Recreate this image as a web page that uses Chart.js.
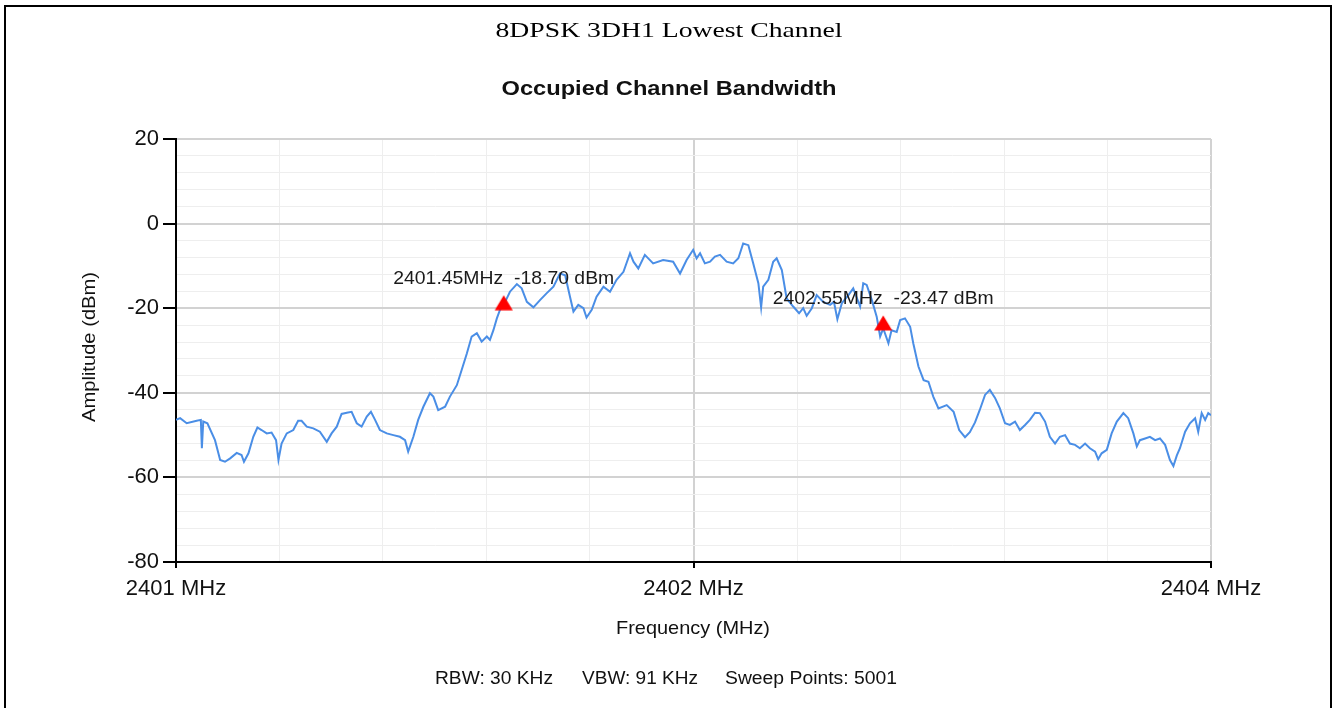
<!DOCTYPE html>
<html>
<head>
<meta charset="utf-8">
<title>8DPSK 3DH1 Lowest Channel</title>
<script src="https://cdn.jsdelivr.net/npm/chart.js@4.4.1/dist/chart.umd.min.js"></script>
<style>
  html, body { margin: 0; padding: 0; background: #fff; }
  #obwChart { display: block; }
</style>
</head>
<body>
<canvas id="obwChart" width="1334" height="708"></canvas>
<script>
// trace (MHz / dBm)
const freqs = [
  2400.500, 2400.512, 2400.531, 2400.560, 2400.572, 2400.575, 2400.579, 2400.591, 2400.613, 2400.628,
  2400.642, 2400.657, 2400.676, 2400.690, 2400.697, 2400.710, 2400.724, 2400.736, 2400.748, 2400.763,
  2400.777, 2400.790, 2400.797, 2400.806, 2400.821, 2400.840, 2400.854, 2400.864, 2400.879, 2400.898,
  2400.917, 2400.937, 2400.951, 2400.966, 2400.980, 2400.995, 2401.009, 2401.024, 2401.038, 2401.053,
  2401.065, 2401.077, 2401.091, 2401.111, 2401.130, 2401.149, 2401.164, 2401.173, 2401.188, 2401.202,
  2401.217, 2401.236, 2401.246, 2401.260, 2401.280, 2401.294, 2401.314, 2401.328, 2401.343, 2401.357,
  2401.372, 2401.386, 2401.401, 2401.410, 2401.420, 2401.430, 2401.439, 2401.454, 2401.468, 2401.488,
  2401.502, 2401.517, 2401.536, 2401.555, 2401.574, 2401.594, 2401.613, 2401.628, 2401.642, 2401.652,
  2401.666, 2401.681, 2401.690, 2401.705, 2401.719, 2401.739, 2401.758, 2401.777, 2401.797, 2401.816,
  2401.826, 2401.840, 2401.859, 2401.883, 2401.912, 2401.941, 2401.961, 2401.980, 2401.999, 2402.009,
  2402.019, 2402.033, 2402.048, 2402.062, 2402.077, 2402.096, 2402.115, 2402.130, 2402.144, 2402.159,
  2402.173, 2402.188, 2402.196, 2402.202, 2402.217, 2402.231, 2402.241, 2402.256, 2402.270, 2402.289,
  2402.306, 2402.318, 2402.328, 2402.343, 2402.357, 2402.376, 2402.396, 2402.407, 2402.417, 2402.430,
  2402.449, 2402.463, 2402.483, 2402.492, 2402.502, 2402.517, 2402.531, 2402.541, 2402.550, 2402.565,
  2402.574, 2402.589, 2402.599, 2402.613, 2402.628, 2402.637, 2402.652, 2402.667, 2402.681, 2402.695,
  2402.710, 2402.734, 2402.754, 2402.770, 2402.787, 2402.801, 2402.816, 2402.830, 2402.845, 2402.859,
  2402.874, 2402.888, 2402.903, 2402.917, 2402.932, 2402.946, 2402.961, 2402.975, 2402.990, 2403.004,
  2403.019, 2403.033, 2403.048, 2403.062, 2403.077, 2403.091, 2403.106, 2403.120, 2403.135, 2403.149,
  2403.164, 2403.173, 2403.183, 2403.198, 2403.212, 2403.227, 2403.246, 2403.260, 2403.275, 2403.285,
  2403.294, 2403.309, 2403.323, 2403.338, 2403.352, 2403.367, 2403.381, 2403.391, 2403.401, 2403.410,
  2403.425, 2403.439, 2403.454, 2403.463, 2403.473, 2403.483, 2403.492, 2403.500
];
const levels = [
  -46.4, -46.0, -47.2, -46.6, -46.4, -53.1, -46.8, -47.2, -51.2, -55.9,
  -56.3, -55.5, -54.2, -54.7, -56.3, -54.3, -50.4, -48.2, -48.8, -49.6,
  -49.4, -51.2, -55.9, -52.0, -49.6, -48.8, -46.6, -46.6, -48.0, -48.4,
  -49.2, -51.6, -49.6, -48.0, -45.0, -44.7, -44.5, -47.2, -48.0, -45.6,
  -44.5, -46.4, -48.8, -49.6, -50.0, -50.4, -51.2, -53.9, -50.4, -46.4,
  -43.3, -40.1, -40.9, -44.1, -43.3, -40.9, -38.2, -34.6, -30.7, -26.7,
  -25.9, -27.9, -26.7, -27.5, -25.2, -22.4, -20.4, -18.5, -16.1, -14.3,
  -15.3, -18.5, -19.8, -18.1, -16.5, -14.9, -11.8, -12.2, -17.3, -20.8,
  -19.2, -20.0, -22.2, -20.4, -17.3, -14.9, -16.1, -13.3, -11.4, -7.0,
  -9.0, -10.6, -7.4, -9.4, -8.6, -9.0, -11.8, -8.6, -6.2, -8.2,
  -7.0, -9.4, -9.0, -7.8, -7.4, -9.0, -9.4, -8.2, -4.7, -5.1,
  -9.4, -14.1, -19.8, -14.9, -13.3, -9.0, -8.2, -11.0, -17.7, -19.6,
  -21.2, -20.0, -21.8, -20.0, -16.9, -18.5, -19.2, -18.5, -22.6, -18.8,
  -16.9, -15.3, -19.6, -14.1, -14.5, -18.1, -22.0, -26.7, -24.8, -28.3,
  -25.2, -25.6, -22.8, -22.4, -24.4, -28.3, -33.8, -37.0, -37.4, -40.9,
  -43.7, -42.9, -44.5, -48.8, -50.5, -49.3, -47.0, -44.0, -40.5, -39.3,
  -41.2, -43.7, -47.2, -47.6, -46.8, -48.8, -47.6, -46.4, -44.7, -44.8,
  -46.8, -50.4, -52.0, -50.4, -50.0, -52.0, -52.3, -53.1, -52.0, -53.1,
  -53.9, -55.7, -54.3, -53.5, -49.6, -46.8, -44.8, -46.0, -49.6, -52.7,
  -51.2, -50.8, -50.4, -51.2, -50.8, -52.3, -55.9, -57.3, -54.8, -53.1,
  -49.2, -47.2, -46.0, -49.2, -44.8, -46.4, -44.8, -45.3
];

// OBW markers
const markerFreqs = [2401.45, 2402.55];
const markerLevels = [-18.70, -23.47];
const markerLabels = ['2401.45MHz  -18.70 dBm', '2402.55MHz  -23.47 dBm'];

// axes
const xGridValues = [2400.5, 2400.8, 2401.1, 2401.4, 2401.7, 2402.0, 2402.3, 2402.6, 2402.9, 2403.2, 2403.5];
const xMajorValues = [2400.5, 2402.0, 2403.5];
const xMajorLabels = ['2401 MHz', '2402 MHz', '2404 MHz'];
const yGridValues = [-80, -76, -72, -68, -64, -60, -56, -52, -48, -44, -40, -36, -32, -28, -24, -20, -16, -12, -8, -4, 0, 4, 8, 12, 16, 20];
const yMajorValues = [-80, -60, -40, -20, 0, 20];

const pageTitle = '8DPSK 3DH1 Lowest Channel';
const chartTitle = 'Occupied Channel Bandwidth';
const xTitle = 'Frequency (MHz)';
const yTitle = 'Amplitude (dBm)';
const footerParts = ['RBW: 30 KHz', 'VBW: 91 KHz', 'Sweep Points: 5001'];

function isIn(list, v) {
  return list.some(m => Math.abs(m - v) < 1e-6);
}

// red triangle whose box is centred on the point
function makeTriangle() {
  const c = document.createElement('canvas');
  c.width = 20;
  c.height = 16;
  const g = c.getContext('2d');
  g.fillStyle = '#ff0000';
  g.beginPath();
  g.moveTo(10, 0.5);
  g.lineTo(19, 15.5);
  g.lineTo(1, 15.5);
  g.closePath();
  g.fill();
  return c;
}

// draw text squeezed/stretched to a given width
function fitText(ctx, text, font, x, y, w, align) {
  ctx.font = font;
  const m = ctx.measureText(text).width;
  ctx.save();
  ctx.translate(x, y);
  ctx.scale(w / m, 1);
  ctx.textAlign = align || 'center';
  ctx.textBaseline = 'alphabetic';
  ctx.fillText(text, 0, 0);
  ctx.restore();
}

const pagePlugin = {
  id: 'pagePlugin',
  beforeDraw(chart) {
    const ctx = chart.ctx;
    ctx.save();
    ctx.fillStyle = '#ffffff';
    ctx.fillRect(0, 0, chart.width, chart.height);
    ctx.fillStyle = '#000000';
    ctx.fillRect(4, 5, 1328, 2);
    ctx.fillRect(4, 5, 2, 703);
    ctx.fillRect(1330, 5, 2, 703);
    ctx.restore();
  },
  afterDraw(chart) {
    const ctx = chart.ctx;
    const xs = chart.scales.x, ys = chart.scales.y;
    ctx.save();
    ctx.fillStyle = '#000000';
    fitText(ctx, pageTitle, '21px "Liberation Serif", "Times New Roman", serif', 669, 37, 347);
    ctx.fillStyle = '#111111';
    fitText(ctx, chartTitle, 'bold 20px "Liberation Sans", Arial, sans-serif', 669, 95, 335);
    fitText(ctx, xTitle, '19px "Liberation Sans", Arial, sans-serif', 693, 634, 154);

    ctx.save();
    ctx.translate(95, 347);
    ctx.rotate(-Math.PI / 2);
    fitText(ctx, yTitle, '18px "Liberation Sans", Arial, sans-serif', 0, 0, 150);
    ctx.restore();

    // footer with sweep settings
    const footX = [435, 582, 725];
    const footW = [118, 116, 172];
    footerParts.forEach((t, i) => {
      fitText(ctx, t, '18px "Liberation Sans", Arial, sans-serif', footX[i], 684, footW[i], 'left');
    });

    // marker readouts
    ctx.fillStyle = '#1a1a1a';
    markerFreqs.forEach((f, i) => {
      const px = xs.getPixelForValue(f);
      const py = ys.getPixelForValue(markerLevels[i]);
      fitText(ctx, markerLabels[i], '19px "Liberation Sans", Arial, sans-serif', px, py - 19, 221);
    });
    ctx.restore();
  }
};

new Chart(document.getElementById('obwChart'), {
  type: 'line',
  data: {
    datasets: [
      {
        label: 'Trace',
        data: freqs.map((f, i) => ({ x: f, y: levels[i] })),
        borderColor: '#4a8ee6',
        borderWidth: 2,
        pointRadius: 0,
        tension: 0,
        fill: false,
        order: 2
      },
      {
        label: 'Markers',
        data: markerFreqs.map((f, i) => ({ x: f, y: markerLevels[i] })),
        showLine: false,
        pointStyle: makeTriangle(),
        pointRadius: 10,
        order: 1
      }
    ]
  },
  options: {
    responsive: false,
    animation: false,
    devicePixelRatio: 1,
    layout: { padding: { left: 0, right: 123, top: 139, bottom: 0 } },
    plugins: {
      legend: { display: false },
      title: { display: false },
      tooltip: { enabled: false }
    },
    scales: {
      x: {
        type: 'linear',
        min: 2400.5,
        max: 2403.5,
        afterBuildTicks: (scale) => { scale.ticks = xGridValues.map(v => ({ value: v })); },
        afterFit: (scale) => { scale.height = 146; },
        border: { display: true, color: '#000000', width: 2 },
        grid: {
          color: (c) => isIn(xMajorValues, c.tick.value) ? '#d2d2d2' : '#eeeeee',
          lineWidth: (c) => isIn(xMajorValues, c.tick.value) ? 2 : 1,
          tickColor: (c) => isIn(xMajorValues, c.tick.value) ? '#000000' : 'rgba(0,0,0,0)',
          tickLength: 6,
          tickWidth: 2
        },
        ticks: {
          autoSkip: false,
          maxRotation: 0,
          padding: 8,
          color: '#111111',
          font: { family: '"Liberation Sans", Arial, sans-serif', size: 22 },
          callback: (v) => {
            const i = xMajorValues.findIndex(m => Math.abs(m - v) < 1e-6);
            return i >= 0 ? xMajorLabels[i] : '';
          }
        }
      },
      y: {
        type: 'linear',
        min: -80,
        max: 20,
        afterBuildTicks: (scale) => { scale.ticks = yGridValues.map(v => ({ value: v })); },
        afterFit: (scale) => { scale.width = 176; },
        border: { display: true, color: '#000000', width: 2 },
        grid: {
          color: (c) => isIn(yMajorValues, c.tick.value) ? '#d2d2d2' : '#eeeeee',
          lineWidth: (c) => isIn(yMajorValues, c.tick.value) ? 2 : 1,
          tickColor: (c) => isIn(yMajorValues, c.tick.value) ? '#000000' : 'rgba(0,0,0,0)',
          tickLength: 13,
          tickWidth: 2
        },
        ticks: {
          autoSkip: false,
          padding: 4,
          color: '#111111',
          font: { family: '"Liberation Sans", Arial, sans-serif', size: 22 },
          callback: (v) => isIn(yMajorValues, v) ? String(v) : ''
        }
      }
    }
  },
  plugins: [pagePlugin]
});
</script>
</body>
</html>
